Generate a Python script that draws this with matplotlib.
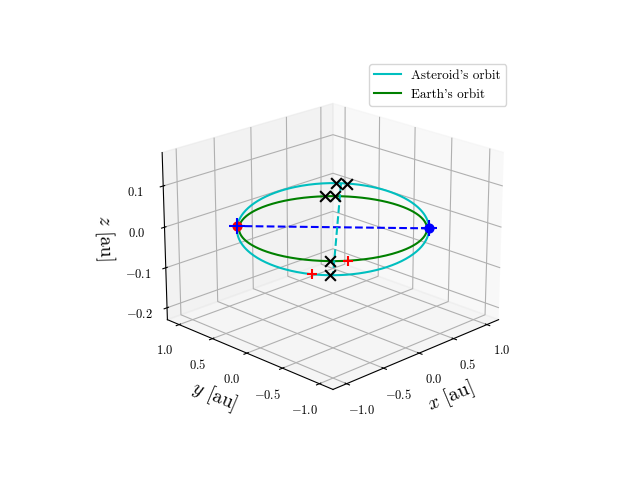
import numpy as np
import matplotlib
matplotlib.use("Agg")
import matplotlib.pyplot as plt

plt.rcParams.update({"font.family": "serif", "font.serif": ["cmr10"],
                     "mathtext.fontset": "cm", "axes.formatter.use_mathtext": True,
                     "axes.unicode_minus": True})

# orbit parameters
a_ast = 0.95
inc_deg = 1.9
node_angle_deg = -47.0
a_earth = 0.93
# marked positions (argument angles in degrees from ascending node)
ast_x_angles = [83, 90, 270]
earth_x_angles = [90.6, 97, 270]
ast_plus_angle = [260]
earth_plus_angle = [281]
apsides_angles = [87, 272]

t = np.linspace(0, 2*np.pi, 400)
inc = np.radians(inc_deg); Om = np.radians(node_angle_deg)

def ast_pos(u):
    r = a_ast
    xo, yo = r*np.cos(u), r*np.sin(u)
    x = xo*np.cos(Om) - yo*np.cos(inc)*np.sin(Om)
    y = xo*np.sin(Om) + yo*np.cos(inc)*np.cos(Om)
    z = yo*np.sin(inc)
    return x, y, z

def earth_pos(u):
    u = u + Om
    return a_earth*np.cos(u), a_earth*np.sin(u), 0*u

fig = plt.figure(figsize=(6.4, 4.8), dpi=100)
ax = fig.add_subplot(projection="3d")
ax.plot(*ast_pos(t), color="c", label="Asteroid's orbit")
ax.plot(*earth_pos(t), color="g", label="Earth's orbit")
# line of nodes
n1 = ast_pos(np.array([0.0])); n2 = ast_pos(np.array([np.pi]))
ax.plot([n1[0][0], n2[0][0]], [n1[1][0], n2[1][0]], [0, 0], "b--")
ax.scatter([n2[0][0]], [n2[1][0]], [0], color="r", s=40, depthshade=False)
ax.scatter([n1[0][0]], [n1[1][0]], [0], color="b", s=40, depthshade=False)
ax.scatter([n1[0][0], n2[0][0]], [n1[1][0], n2[1][0]], [0, 0], color="b", marker="+", s=120, depthshade=False)
# apsides line
p = ast_pos(np.radians(np.array(apsides_angles, dtype=float)))
ax.plot(p[0], p[1], p[2], "c--")
ax.scatter(*ast_pos(np.radians(np.array(ast_x_angles, dtype=float))), color="k", marker="x", s=60, depthshade=False)
ax.scatter(*earth_pos(np.radians(np.array(earth_x_angles))), color="k", marker="x", s=60, depthshade=False)
ax.scatter(*ast_pos(np.radians(np.array(ast_plus_angle, dtype=float))), color="r", marker="+", s=60, depthshade=False)
ax.scatter(*earth_pos(np.radians(np.array(earth_plus_angle, dtype=float))), color="r", marker="+", s=60, depthshade=False)

ax.set_xlim(-1.18, 1.18); ax.set_ylim(-1.18, 1.18); ax.set_zlim(-0.23, 0.18)
ax.set_xticks([-1.0, -0.5, 0.0, 0.5, 1.0]); ax.set_yticks([-1.0, -0.5, 0.0, 0.5, 1.0])
ax.set_zticks([-0.2, -0.1, 0.0, 0.1])
ax.tick_params(labelsize=9)
ax.set_xlabel("$x$ [au]", fontsize=14); ax.set_ylabel("$y$ [au]", fontsize=14)
ax.set_zlabel("$z$ [au]", fontsize=14)
ax.view_init(elev=20.5, azim=-135)
ax.legend(loc="upper right", fontsize=9.5)
fig.savefig("out.png", dpi=100)
